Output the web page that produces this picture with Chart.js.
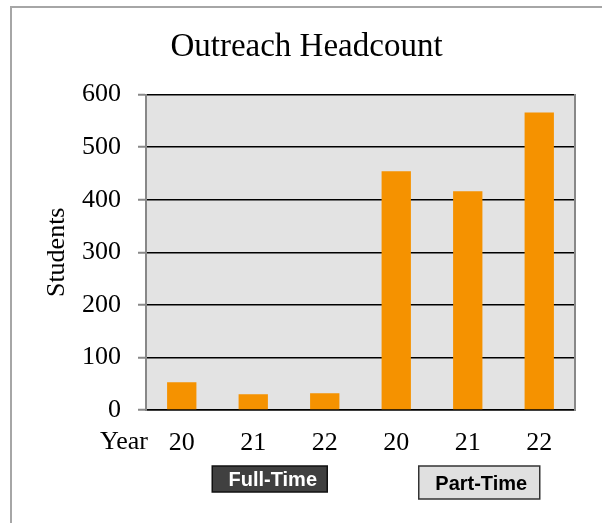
<!DOCTYPE html>
<html>
<head>
<meta charset="utf-8">
<script src="https://cdn.jsdelivr.net/npm/chart.js@4"></script>
<style>
  html, body { margin: 0; padding: 0; background: #fff; }
  canvas { display: block; }
</style>
</head>
<body>
<canvas id="headcountChart" width="602" height="523"></canvas>
<script>
// data
const years = ['20', '21', '22', '20', '21', '22'];
const students = [53, 30, 32, 454, 416, 566];
const groups = ['Full-Time', 'Part-Time'];
const yTicks = [0, 100, 200, 300, 400, 500, 600];

const serif = '"Liberation Serif", "Times New Roman", serif';
const sans = '"Liberation Sans", Arial, sans-serif';

// look of the two group boxes under the axis (one per group)
const groupBoxStyles = [
  { dx: -41, y: 466, w: 115, h: 26, fill: '#404040', stroke: '#111', text: '#fff', tx: 3, baseline: 486 },
  { dx: -49, y: 466, w: 121, h: 33, fill: '#e0e0e0', stroke: '#333', text: '#000', tx: 2, baseline: 490 }
];

const decorations = {
  id: 'decorations',
  beforeDraw(chart) {
    const { ctx, chartArea } = chart;
    ctx.save();
    ctx.fillStyle = '#e3e3e3';
    ctx.fillRect(chartArea.left, chartArea.top, chartArea.right - chartArea.left, chartArea.bottom - chartArea.top);
    // outer frame, runs off the right and bottom edges
    ctx.strokeStyle = '#a6a6a6';
    ctx.lineWidth = 2;
    ctx.beginPath();
    ctx.moveTo(11, chart.height + 5);
    ctx.lineTo(11, 7);
    ctx.lineTo(chart.width + 5, 7);
    ctx.stroke();
    ctx.restore();
  },
  afterDraw(chart) {
    const { ctx, chartArea } = chart;
    const x = chart.scales.x;
    ctx.save();
    ctx.fillStyle = '#000';
    ctx.font = '26px ' + serif;
    ctx.textAlign = 'right';
    ctx.textBaseline = 'alphabetic';
    ctx.fillText('Year', chartArea.left + 2, 449);

    groups.forEach((name, g) => {
      const st = groupBoxStyles[g];
      const mid = x.getPixelForTick(g * 3 + 1);
      const left = mid + st.dx;
      ctx.fillStyle = st.fill;
      ctx.fillRect(left, st.y, st.w, st.h);
      ctx.strokeStyle = st.stroke;
      ctx.lineWidth = 1.5;
      ctx.strokeRect(left, st.y, st.w, st.h);
      ctx.fillStyle = st.text;
      ctx.font = 'bold 20px ' + sans;
      ctx.textAlign = 'center';
      ctx.textBaseline = 'alphabetic';
      ctx.fillText(name, left + st.w / 2 + st.tx, st.baseline);
    });
    ctx.restore();
  }
};

new Chart(document.getElementById('headcountChart'), {
  type: 'bar',
  data: {
    labels: years,
    datasets: [{
      label: 'Students',
      data: students,
      backgroundColor: '#f59200',
      borderWidth: 0,
      categoryPercentage: 1,
      barPercentage: 0.41
    }]
  },
  options: {
    responsive: false,
    animation: false,
    devicePixelRatio: 1,
    layout: {
      padding: { left: 11, right: 0, top: 0, bottom: 0 }
    },
    plugins: {
      legend: { display: false },
      tooltip: { enabled: false },
      title: {
        display: true,
        text: 'Outreach Headcount',
        color: '#000',
        font: { family: serif, size: 33, weight: 'normal' },
        padding: { top: 28, bottom: 27 }
      }
    },
    scales: {
      x: {
        grid: { display: false, drawTicks: false },
        border: { display: true, color: '#000', width: 1.5 },
        ticks: {
          color: '#000',
          padding: 18,
          font: { family: serif, size: 26 }
        },
        afterFit: function(scale) {
          scale.height = 113;
        }
      },
      y: {
        min: 0,
        max: 600,
        afterBuildTicks: function(scale) {
          scale.ticks = yTicks.map((v) => ({ value: v }));
        },
        grid: {
          color: '#000',
          lineWidth: 1.5,
          tickColor: '#888',
          tickWidth: 2,
          tickLength: 8
        },
        border: { display: true, color: '#888', width: 2 },
        ticks: {
          color: '#000',
          padding: 17,
          font: { family: serif, size: 26 }
        },
        title: {
          display: true,
          text: 'Students',
          color: '#000',
          font: { family: serif, size: 26 },
          padding: { top: 31, bottom: 0 }
        },
        afterFit: function(scale) {
          scale.width = 135;
        }
      },
      y2: {
        position: 'right',
        min: 0,
        max: 600,
        grid: { display: false, drawTicks: false },
        ticks: { display: false },
        border: { display: true, color: '#888', width: 2 },
        afterFit: function(scale) {
          scale.width = 27;
        }
      }
    }
  },
  plugins: [decorations]
});
</script>
</body>
</html>
